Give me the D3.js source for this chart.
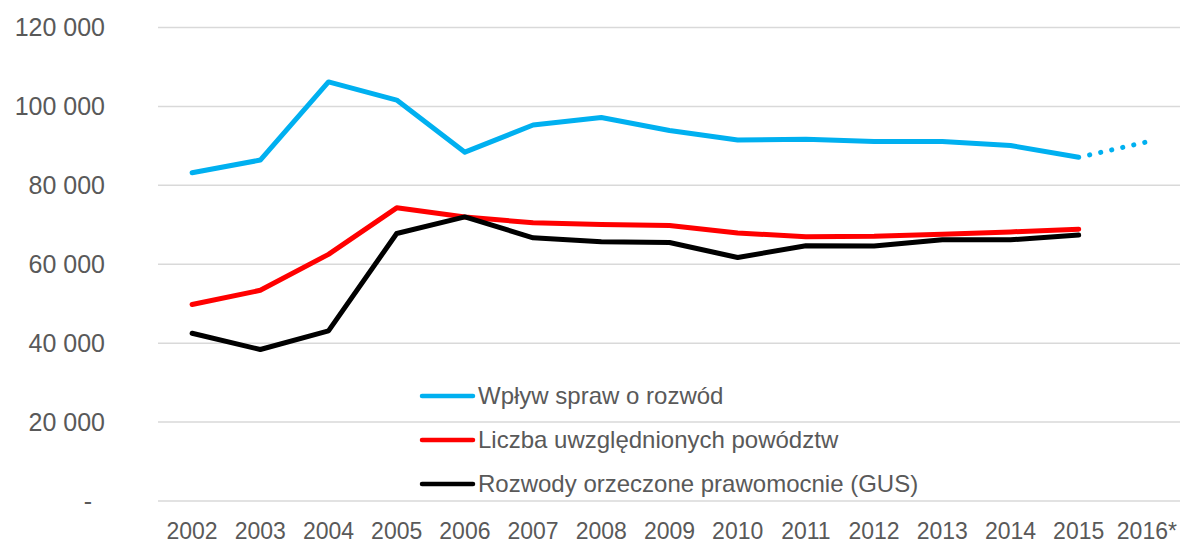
<!DOCTYPE html>
<html>
<head>
<meta charset="utf-8">
<script src="https://cdn.jsdelivr.net/npm/d3@7"></script>
<style>
  body { margin: 0; background: #fff; }
  svg { display: block; }
</style>
</head>
<body>
<svg id="chart" width="1180" height="545"></svg>
<script>
const years = ["2002", "2003", "2004", "2005", "2006", "2007", "2008", "2009", "2010", "2011", "2012", "2013", "2014", "2015", "2016*"]
const yTicks = [0, 20000, 40000, 60000, 80000, 100000, 120000]

// wpływ spraw o rozwód (2016 = szacunek, linia kropkowana)
const wplyw = [83200, 86400, 106200, 101600, 88400, 95300, 97200, 93900, 91500, 91700, 91100, 91100, 90100, 87100, 91000]
const uwzglednione = [49800, 53400, 62500, 74300, 72000, 70500, 70100, 69800, 67900, 67000, 67100, 67600, 68200, 68900]
const gus = [42500, 38400, 43100, 67800, 72000, 66700, 65700, 65500, 61700, 64700, 64600, 66200, 66200, 67400]

const seriesNames = ["Wpływ spraw o rozwód", "Liczba uwzględnionych powództw", "Rozwody orzeczone prawomocnie (GUS)"]
const seriesColors = ["#00b0f0", "#ff0000", "#000000"]

const svg = d3.select("#chart")
const textColor = "#595959"

const x = d3.scaleBand().domain(years).range([158, 1181]).padding(0)
const cx = d => x(d) + x.bandwidth() / 2
const y = d3.scaleLinear().domain([0, 120000]).range([501, 27.5])

const fmt = d3.formatLocale({ decimal: ",", thousands: " ", grouping: [3], currency: ["", " zł"] }).format(",d")

// siatka
svg.append("g")
    .selectAll("line")
    .data(yTicks)
    .join("line")
    .attr("x1", 158)
    .attr("x2", 1180)
    .attr("y1", d => y(d))
    .attr("y2", d => y(d))
    .attr("stroke", "#d9d9d9")
    .attr("stroke-width", 1.5)

// etykiety osi Y
svg.append("g")
    .selectAll("text")
    .data(yTicks)
    .join("text")
    .attr("x", d => d === 0 ? 92 : 105)
    .attr("y", d => y(d))
    .attr("dy", "0.35em")
    .attr("text-anchor", "end")
    .attr("font-family", "Liberation Sans, Arial, sans-serif")
    .attr("font-size", 25)
    .attr("fill", textColor)
    .text(d => d === 0 ? "-" : fmt(d))

// etykiety osi X
svg.append("g")
    .selectAll("text")
    .data(years)
    .join("text")
    .attr("x", d => cx(d))
    .attr("y", 539)
    .attr("text-anchor", "middle")
    .attr("font-family", "Liberation Sans, Arial, sans-serif")
    .attr("font-size", 23)
    .attr("fill", textColor)
    .text(d => d)

const line = d3.line()
    .x((d, i) => cx(years[i]))
    .y(d => y(d))

const lines = svg.append("g").attr("fill", "none").attr("stroke-width", 5)

// niebieska - część pełna do 2015
lines.append("path")
    .attr("d", line(wplyw.slice(0, 14)))
    .attr("stroke", seriesColors[0])
    .attr("stroke-linecap", "round")
    .attr("stroke-linejoin", "round")

// prognoza 2016 - kropki
lines.append("path")
    .attr("d", d3.line().x(d => cx(d.year)).y(d => y(d.v))([
        { year: years[13], v: wplyw[13] },
        { year: years[14], v: wplyw[14] }
    ]))
    .attr("stroke", seriesColors[0])
    .attr("stroke-linecap", "round")
    .attr("stroke-dasharray", "0.1 11.2")
    .attr("stroke-dashoffset", -11.2)

lines.append("path")
    .attr("d", line(uwzglednione))
    .attr("stroke", seriesColors[1])
    .attr("stroke-linecap", "round")
    .attr("stroke-linejoin", "round")

lines.append("path")
    .attr("d", line(gus))
    .attr("stroke", seriesColors[2])
    .attr("stroke-linecap", "round")
    .attr("stroke-linejoin", "round")

// legenda
const legend = svg.append("g")
    .selectAll("g")
    .data(seriesNames)
    .join("g")
    .attr("transform", (d, i) => `translate(422, ${396 + i * 44})`)

legend.append("line")
    .attr("x1", 0)
    .attr("x2", 51)
    .attr("stroke", (d, i) => seriesColors[i])
    .attr("stroke-width", 4.5)
    .attr("stroke-linecap", "round")

legend.append("text")
    .attr("x", 56)
    .attr("dy", "0.35em")
    .attr("font-family", "Liberation Sans, Arial, sans-serif")
    .attr("font-size", 24)
    .attr("fill", textColor)
    .text(d => d)
</script>
</body>
</html>
